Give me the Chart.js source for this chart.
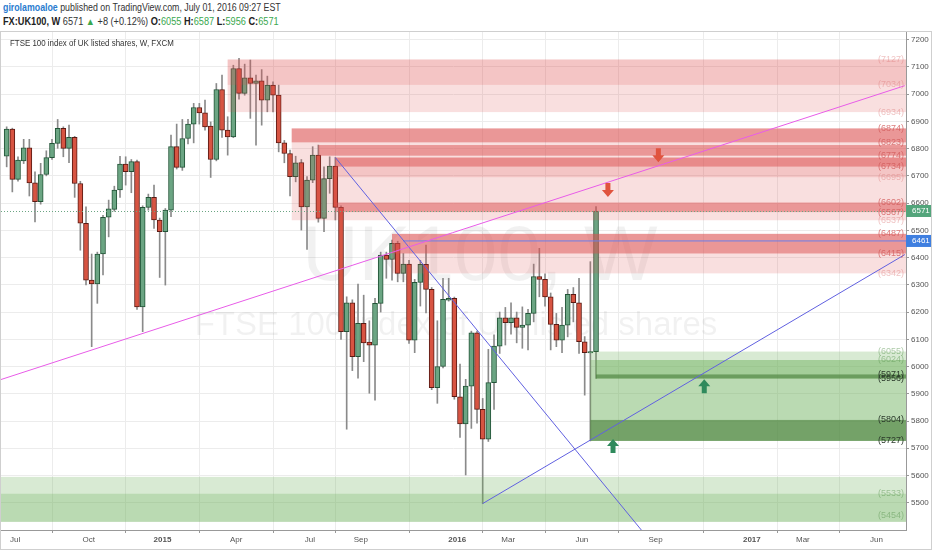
<!DOCTYPE html>
<html>
<head>
<meta charset="utf-8" />
<script src="https://cdn.jsdelivr.net/npm/chart.js@4.4.0/dist/chart.umd.min.js"></script>
<style>
  body { margin:0; background:#fff; font-family:"Liberation Sans", Arial, sans-serif; width:932px; height:550px; overflow:hidden; position:relative; }
  #hdr { position:absolute; left:3px; top:1px; font-size:10px; color:#333; line-height:14px; white-space:nowrap; }
  #hdr div { transform-origin:0 0; }
  #hdr .l1 { transform:scaleX(0.88); }
  #hdr .l2 { transform:scaleX(0.92); }
  #hdr .user { color:#2a7ccf; font-weight:bold; }
  #hdr .g { color:#3aa84f; }
  #hdr b { color:#222; }
  #wrap { position:absolute; left:0; top:31px; width:932px; height:519px; box-sizing:border-box; border:1px solid #cfcfcf; }
  #legend { position:absolute; left:9px; top:6px; font-size:9px; color:#333; pointer-events:none; transform:scaleX(0.88); transform-origin:0 0; white-space:nowrap; }
  canvas { display:block; }
</style>
</head>
<body>
<div id="hdr">
  <div class="l1"><span class="user">girolamoaloe</span> published on TradingView.com, July 01, 2016 09:27 EST</div>
  <div class="l2"><b>FX:UK100, W</b> 6571 <span class="g">&#9650;</span> +8 (+0.12%) <b>O:</b><span class="g">6055</span> <b>H:</b><span class="g">6587</span> <b>L:</b><span class="g">5956</span> <b>C:</b><span class="g">6571</span></div>
</div>
<div id="wrap">
  <canvas id="chart" width="930" height="517"></canvas>
  <div id="legend">FTSE 100 index of UK listed shares, W, FXCM</div>
</div>
<script>
// weekly candles, week of 30 Jun 2014 (index 0) .. week of 27 Jun 2016 (index 104)
const opens = [6772,6872,6687,6755,6803,6674,6605,6705,6767,6819,6874,6801,6841,6672,6526,6317,6303,6413,6548,6577,
  6648,6743,6715,6752,6219,6584,6621,6538,6495,6574,6807,6731,6837,6890,6951,6931,6883,6760,7017,6868,
  6843,7094,7003,7060,7039,7049,6978,7033,6996,6821,6782,6697,6749,6586,6684,6776,6544,6690,6736,6584,
  6128,6234,6036,6159,6090,6078,6232,6409,6393,6452,6342,6376,6097,6309,6375,6283,5922,6000,6244,6250,
  5889,5789,5928,6124,5843,5733,5941,6075,6179,6161,6179,6144,6152,6195,6330,6320,6256,6155,6097,6152,
  6265,6234,6091,6050,6055];
const highs = [6880,6875,6770,6834,6834,6715,6746,6792,6834,6907,6880,6886,6845,6680,6586,6413,6420,6555,6611,6662,
  6772,6770,6760,6758,6590,6633,6666,6545,6580,6850,6890,6907,6907,6966,6966,6978,6898,7039,7070,6917,
  7106,7131,7110,7125,7070,7090,7066,7045,7033,6830,6795,6772,6760,6697,6807,6813,6733,6770,6767,6590,
  6256,6245,6303,6262,6168,6250,6420,6420,6464,6460,6415,6390,6320,6390,6446,6290,6168,6324,6324,6255,
  6009,5953,6130,6130,5883,6063,6116,6200,6217,6234,6200,6219,6210,6376,6434,6340,6270,6195,6217,6283,
  6290,6324,6110,6385,6587];
const lows = [6733,6641,6680,6745,6626,6531,6596,6700,6760,6801,6770,6748,6621,6427,6300,6073,6232,6336,6476,6570,
  6621,6666,6638,6210,6128,6574,6507,6327,6299,6550,6725,6720,6817,6821,6890,6868,6694,6755,6841,6776,
  6840,6981,6996,6911,6813,6886,6935,6935,6788,6748,6626,6678,6501,6430,6675,6530,6495,6636,6538,6100,
  5770,5985,5957,6018,5902,5877,6200,6324,6317,6311,6311,6085,6051,6222,6197,5915,5865,5995,6240,5880,
  5740,5602,5773,5792,5497,5725,5843,6048,6079,6119,6087,6067,6061,6164,6256,6222,6061,6073,6051,6109,
  6164,6048,5895,5727,5956];
const closes = [6872,6687,6758,6803,6674,6605,6705,6767,6819,6874,6801,6841,6672,6526,6317,6303,6413,6548,6579,6648,
  6743,6715,6752,6219,6584,6621,6538,6495,6574,6807,6731,6837,6890,6951,6931,6880,6760,7017,6868,6843,
  7094,7003,7060,7039,7049,6978,7033,6996,6821,6782,6697,6748,6586,6684,6776,6544,6690,6736,6584,6128,
  6234,6036,6159,6087,6078,6232,6409,6393,6452,6342,6376,6097,6309,6375,6283,5922,6000,6247,6250,5889,
  5789,5928,6124,5843,5733,5941,6075,6179,6161,6179,6144,6152,6195,6330,6320,6256,6155,6097,6152,6265,
  6234,6091,6051,6055,6571];

// time axis: bar index of the first weekly bar of each labelled month
const xTickIdx = [1, 14, 27, 40, 53, 62, 79, 88, 101, 114, 131, 140, 153];
const xTickLabels = ['Jul', 'Oct', '2015', 'Apr', 'Jul', 'Sep', '2016', 'Mar', 'Jun', 'Sep', '2017', 'Mar', 'Jun'];
const yTicks = [5500,5600,5700,5800,5900,6000,6100,6200,6300,6400,6500,6600,6700,6800,6900,7000,7100,7200];

// drawn rectangles: [start bar, top price, bottom price], extended to the right
const redLight = [[39,7127,6934],[39,7127,7034],[50.3,6874,6537],[58,6767,6695],[68,6487,6342]];
const redDark = [[50.3,6874,6823],[55,6813,6774],[58,6767,6734],[58,6602,6567],[68,6487,6415]];
const greenLight = [[103,6055,5727],[103,6024,5727],[104,6024,5956],[-2,5595,5430],[-2,5533,5430]];
const greenDark = [[104,5971,5956],[103,5804,5727]];
const redLabels = [7127,7034,6934,6874,6823,6774,6734,6695,6602,6567,6537,6487,6415,6342];
const greenLabels = [6055,6024,5971,5956,5804,5727,5533,5454];

// trend lines: [[bar, price], [bar, price]]
const pinkLine = [[-1.2,5951],[158.5,7031]];
const blueDown = [[58,6767],[112,5400]];
const blueUp = [[84,5497],[158.5,6411]];
const blueLevel = [[70,6461],[159,6461]];
const lastPrice = 6571;

// arrow marks: [bar, price]
const arrowsDown = [[115,6776],[106.1,6648]];
const arrowsUp = [[123.1,5928],[107,5708]];

const idx = opens.map((_, i) => i);
const up = idx.map(i => closes[i] >= opens[i]);

const FONT = '"Liberation Sans", Arial, sans-serif';

const drawings = {
  id: 'drawings',
  beforeDatasetsDraw(chart) {
    const {ctx, chartArea: a} = chart;
    ctx.save();
    ctx.fillStyle = 'rgba(0,0,0,0.055)';
    ctx.textAlign = 'center';
    ctx.textBaseline = 'middle';
    ctx.font = '78px ' + FONT;
    ctx.fillText('UK100, W', a.left + 479, a.top + 226);
    ctx.font = '33px ' + FONT;
    ctx.fillText('FTSE 100 index of UK listed shares', a.left + 455, a.top + 294);
    ctx.restore();
  },
  afterDatasetDraw(chart, args) {
    if (args.index !== 1) return;
    const {ctx, chartArea: a, scales: {x, y}} = chart;
    ctx.save();
    ctx.beginPath(); ctx.rect(a.left, a.top, a.width, a.height); ctx.clip();
    const fill = (list, color) => list.forEach(([s, t, b]) => {
      const x0 = Math.max(x.getPixelForValue(s), a.left);
      const y0 = y.getPixelForValue(t), y1 = y.getPixelForValue(b);
      ctx.fillStyle = color;
      ctx.fillRect(x0, y0, a.right - x0, y1 - y0);
    });
    fill(redLight, 'rgba(220,80,80,0.18)');
    fill(redDark, 'rgba(220,80,80,0.5)');
    fill(greenLight, 'rgba(100,170,80,0.25)');
    fill(greenDark, 'rgba(70,125,55,0.6)');
    // last price dotted line
    ctx.strokeStyle = '#6ba583';
    ctx.setLineDash([1, 2]);
    ctx.lineWidth = 1;
    const yp = Math.round(y.getPixelForValue(lastPrice)) + 0.5;
    ctx.beginPath(); ctx.moveTo(a.left, yp); ctx.lineTo(a.right, yp); ctx.stroke();
    ctx.restore();
  },
  afterDatasetsDraw(chart) {
    const {ctx, chartArea: a, scales: {x, y}} = chart;
    ctx.save();
    const arrow = (px, py, dir, color) => {
      // dir 1 = pointing down
      ctx.fillStyle = color;
      ctx.beginPath();
      ctx.moveTo(px - 2.5, py - 7 * dir);
      ctx.lineTo(px + 2.5, py - 7 * dir);
      ctx.lineTo(px + 2.5, py);
      ctx.lineTo(px + 6, py);
      ctx.lineTo(px, py + 7 * dir);
      ctx.lineTo(px - 6, py);
      ctx.lineTo(px - 2.5, py);
      ctx.closePath();
      ctx.fill();
    };
    arrowsDown.forEach(([b, p]) => arrow(x.getPixelForValue(b), y.getPixelForValue(p), 1, '#e0533e'));
    arrowsUp.forEach(([b, p]) => arrow(x.getPixelForValue(b), y.getPixelForValue(p), -1, '#2f8a5c'));

    ctx.font = '9px ' + FONT;
    ctx.textAlign = 'right';
    ctx.textBaseline = 'middle';
    const strongRed = [6874,6823,6774,6734,6602,6567,6487,6415];
    redLabels.forEach(v => {
      ctx.fillStyle = strongRed.includes(v) ? 'rgba(210,90,90,0.8)' : 'rgba(220,120,120,0.45)';
      ctx.fillText('(' + v + ')', a.right - 2, y.getPixelForValue(v));
    });
    const strongGreen = [5971,5956,5804,5727];
    greenLabels.forEach(v => {
      ctx.fillStyle = strongGreen.includes(v) ? '#2b3a2b' : 'rgba(90,150,80,0.5)';
      ctx.fillText('(' + v + ')', a.right - 2, Math.min(y.getPixelForValue(v), a.bottom - 6));
    });

    // price tags on the axis
    const tag = (v, bg) => {
      const py = y.getPixelForValue(v);
      ctx.fillStyle = bg;
      ctx.fillRect(a.right, py - 6, chart.width - a.right, 12);
      ctx.fillStyle = '#fff';
      ctx.textAlign = 'left';
      ctx.font = '8px ' + FONT;
      ctx.fillText(String(v), a.right + 6, py);
    };
    tag(lastPrice, '#53a57b');
    tag(blueLevel[0][1], '#3f7fe0');
    ctx.restore();
  }
};

const lineDs = (pts, color) => ({
  type: 'line', data: pts.map(([b, p]) => ({x: b, y: p})),
  borderColor: color, borderWidth: 1, pointRadius: 0, order: 0, tension: 0
});

new Chart(document.getElementById('chart'), {
  type: 'bar',
  data: {
    datasets: [
      {
        label: 'wick', data: idx.map(i => ({x: i, y: [lows[i], highs[i]]})),
        backgroundColor: '#8a8a8a', barThickness: 1, grouped: false, order: 2
      },
      {
        label: 'body', data: idx.map(i => ({x: i, y: [opens[i], closes[i]]})),
        backgroundColor: idx.map(i => up[i] ? '#6ba583' : '#d75442'),
        borderColor: idx.map(i => up[i] ? '#225437' : '#5b1a13'),
        borderWidth: 1, borderSkipped: false, barThickness: 5, grouped: false, order: 1
      },
      lineDs(pinkLine, '#e85ce8'),
      lineDs(blueDown, '#6060e0'),
      lineDs(blueUp, '#6060e0'),
      lineDs(blueLevel, '#6a7ee8')
    ]
  },
  options: {
    responsive: false, animation: false, devicePixelRatio: 1,
    layout: {padding: 0},
    plugins: {legend: {display: false}, tooltip: {enabled: false}},
    scales: {
      x: {
        type: 'linear', min: -1.0, max: 158.7, offset: false,
        afterBuildTicks: s => { s.ticks = xTickIdx.map(v => ({value: v + 0.5})); },
        afterFit: s => { s.height = 19; s.paddingLeft = 0; s.paddingRight = 0; },
        ticks: {
          autoSkip: false, maxRotation: 0, padding: 2, color: '#555',
          callback: (v, i) => xTickLabels[i],
          font: c => ({family: FONT, size: 8, weight: /^\d{4}$/.test(xTickLabels[c.index]) ? 'bold' : 'normal'})
        },
        grid: {color: '#ececec', tickColor: '#999', tickLength: 3},
        border: {color: '#999'}
      },
      y: {
        position: 'right', min: 5400, max: 7228,
        afterBuildTicks: s => { s.ticks = yTicks.map(v => ({value: v})); },
        afterFit: s => { s.width = 25; s.paddingTop = 0; s.paddingBottom = 0; },
        ticks: {padding: 2, color: '#555', font: {family: FONT, size: 8}, callback: v => String(v)},
        grid: {color: '#ececec', tickColor: '#999', tickLength: 3},
        border: {color: '#999'}
      }
    }
  },
  plugins: [drawings]
});
</script>
</body>
</html>
